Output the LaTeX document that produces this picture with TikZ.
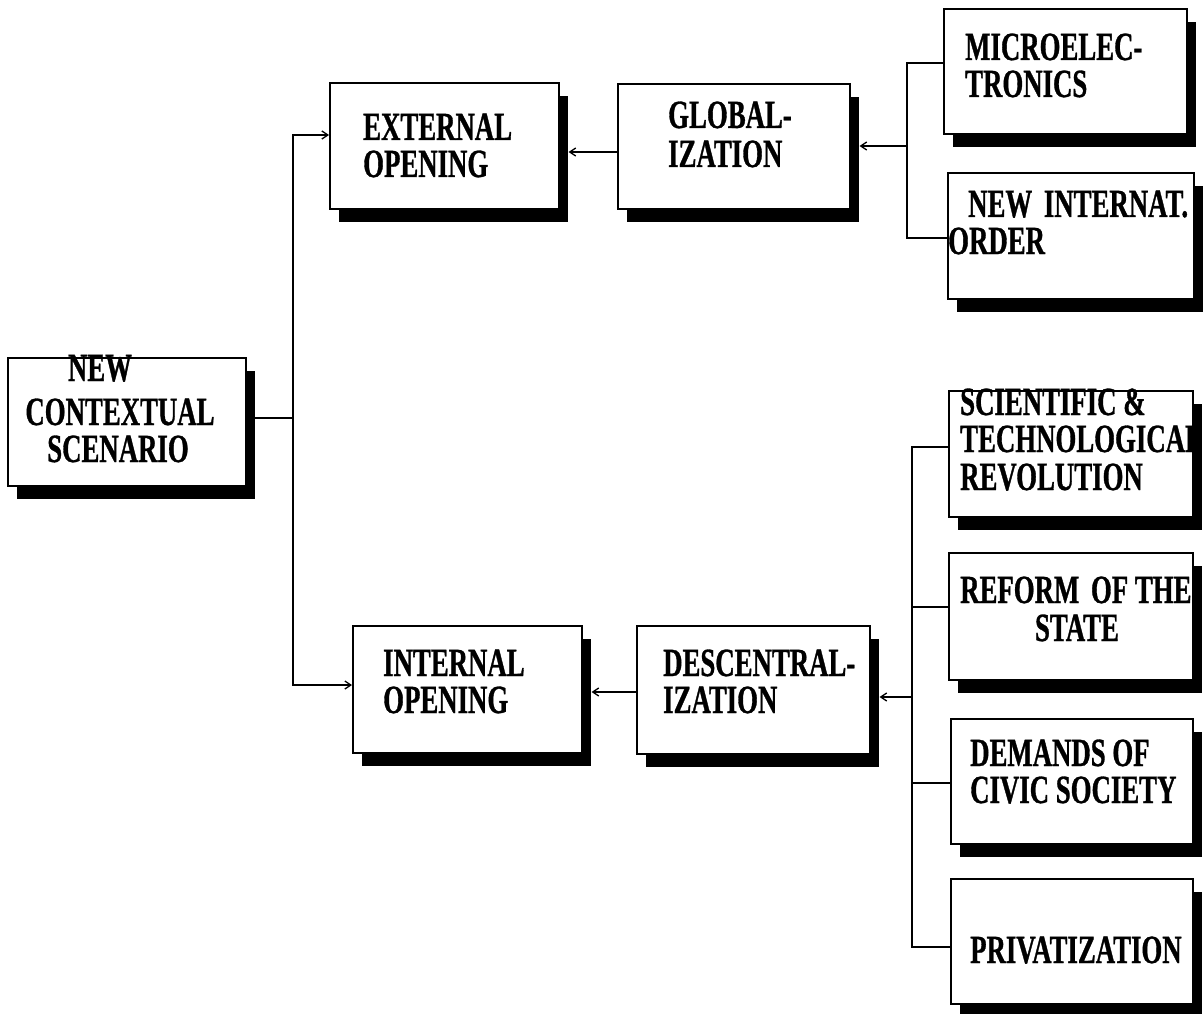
\documentclass[tikz,border=0pt]{standalone}
\usepackage{fontspec}
\newfontfamily\boxfont{Liberation Serif}[FakeStretch=0.67,FakeBold=0.8]
\usetikzlibrary{arrows.meta,shadows}
\begin{document}
\begin{tikzpicture}[x=1pt,y=-1pt,
  box/.style={draw, line width=1.6pt, fill=white, rectangle, inner sep=0pt,
    anchor=north west,
    drop shadow={shadow xshift=9pt, shadow yshift=-13pt, fill=black, opacity=1}},
  lbl/.style={font={\boxfont\bfseries\fontsize{40}{37}\selectfont},
    inner sep=0pt, anchor=base west},
  clbl/.style={lbl, anchor=base},
  ln/.style={line width=1.3pt},
  arr/.style={ln, -{Straight Barb[length=6pt,width=8pt]}}]

\useasboundingbox[fill=white] (0,0) rectangle (1203,1014);

% boxes
\node[box, minimum width=238pt, minimum height=128pt] (ncs)    at (7,357)   {};
\node[box, minimum width=229pt, minimum height=126pt] (ext)    at (329,82)  {};
\node[box, minimum width=232pt, minimum height=125pt] (glob)   at (617,83)  {};
\node[box, minimum width=243pt, minimum height=125pt] (micro)  at (943,8)   {};
\node[box, minimum width=246pt, minimum height=126pt] (nio)    at (947,172) {};
\node[box, minimum width=244pt, minimum height=126pt] (sci)    at (948,390) {};
\node[box, minimum width=244pt, minimum height=127pt] (reform) at (948,552) {};
\node[box, minimum width=242pt, minimum height=125pt] (dem)    at (950,718) {};
\node[box, minimum width=242pt, minimum height=125pt] (priv)   at (950,878) {};
\node[box, minimum width=229pt, minimum height=127pt] (int)    at (352,625) {};
\node[box, minimum width=233pt, minimum height=128pt] (desc)   at (636,625) {};

% labels
\node[clbl] (ncs-1) at (100,381) {NEW};
\node[clbl] (ncs-2) at (120,425) {CONTEXTUAL};
\node[clbl] (ncs-3) at (118,462) {SCENARIO};

\node[lbl] (ext-1) at (363,140) {EXTERNAL};
\node[lbl] (ext-2) at (363,177) {OPENING};

\node[lbl] (glob-1) at (668,128) {GLOBAL-};
\node[lbl] (glob-2) at (668,167) {IZATION};

\node[lbl] (micro-1) at (965,60) {MICROELEC-};
\node[lbl] (micro-2) at (965,97) {TRONICS};

\node[lbl] (nio-1) at (968,217) {NEW\hspace{5pt} INTERNAT.};
\node[lbl] (nio-2) at (948,254) {ORDER};

\node[lbl] (sci-1) at (960,415) {SCIENTIFIC \&};
\node[lbl] (sci-2) at (960,452) {TECHNOLOGICAL};
\node[lbl] (sci-3) at (960,490) {REVOLUTION};

\node[lbl] (reform-1) at (960,603) {REFORM\hspace{5pt} OF THE};
\node[clbl] (reform-2) at (1077,641) {STATE};

\node[lbl] (dem-1) at (970,766) {DEMANDS OF};
\node[lbl] (dem-2) at (970,803) {CIVIC SOCIETY};

\node[lbl] (priv-1) at (970,963) {PRIVATIZATION};

\node[lbl] (int-1) at (383,676) {INTERNAL};
\node[lbl] (int-2) at (383,713) {OPENING};

\node[lbl] (desc-1) at (663,676) {DESCENTRAL-};
\node[lbl] (desc-2) at (663,713) {IZATION};

% junction points and shadow edges
\coordinate (trunk) at (293,418);
\coordinate (gtop) at (907,63);
\coordinate (gbot) at (907,238);
\coordinate (gmid) at (907,146);
\coordinate (dtop) at (912,447);
\coordinate (dbot) at (912,947);
\coordinate (dmid) at (912,697);
\coordinate (extsh)  at ([xshift=9pt]ext.east);
\coordinate (globsh) at ([xshift=9pt]glob.east);
\coordinate (intsh)  at ([xshift=9pt]int.east);
\coordinate (descsh) at ([xshift=9pt]desc.east);

% left trunk
\draw[ln] (ncs.east |- trunk) -- (trunk);
\draw[arr] (trunk) |- (ext.west |- 0,135);
\draw[arr] (trunk) |- (int.west |- 0,685);

% upper branch
\draw[arr] (glob.west |- 0,152) -- (extsh |- 0,152);
\draw[ln] (micro.west |- gtop) -- (gtop) -- (gbot) -- (nio.west |- gbot);
\draw[arr] (gmid) -- (globsh |- gmid);

% lower branch
\draw[arr] (desc.west |- 0,692) -- (intsh |- 0,692);
\draw[ln] (sci.west |- dtop) -- (dtop) -- (dbot) -- (priv.west |- dbot);
\draw[ln] (dtop |- 0,607) -- (reform.west |- 0,607);
\draw[ln] (dtop |- 0,783) -- (dem.west |- 0,783);
\draw[arr] (dmid) -- (descsh |- dmid);

\end{tikzpicture}
\end{document}
